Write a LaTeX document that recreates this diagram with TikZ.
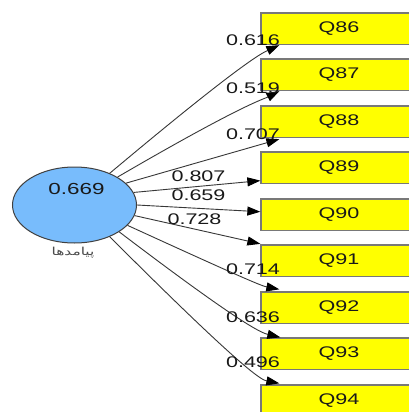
\documentclass[tikz,border=0pt]{standalone}
\usepackage{fontspec}
\usepackage{graphicx}
\setmainfont{Liberation Sans}
\newfontfamily\arabicfont[Script=Arabic]{DejaVu Sans}
\TeXXeTstate=1
\usetikzlibrary{shapes.geometric,arrows.meta,calc}
\definecolor{ellblue}{RGB}{120,188,252}
\definecolor{boxyel}{RGB}{255,255,0}
\definecolor{boxline}{RGB}{120,120,120}
\definecolor{lineclr}{RGB}{55,55,55}
\newcommand{\widetxt}[1]{\scalebox{1.4}[1]{#1}}
\begin{document}
\begin{tikzpicture}[x=1pt,y=-1pt,
  qbox/.style={draw=boxline,line width=1.3pt,fill=boxyel,minimum width=156pt,minimum height=31.5pt,inner sep=0pt,text=black!90,font=\fontsize{15.4}{16}\selectfont},
  lbl/.style={inner sep=0pt,text=black!90,font=\fontsize{15.4}{16}\selectfont},
  arr/.style={draw=lineclr,line width=0.9pt,-{Triangle[length=13pt,width=9pt,black]}}]
\clip (0,0) rectangle (409,412);
\fill[white] (0,0) rectangle (409,412);
% latent variable
\node[ellipse,draw=black!75,line width=1pt,fill=ellblue,minimum width=124pt,minimum height=76pt,inner sep=0pt] (e) at (74.5,205) {};
\node[lbl,font=\fontsize{16}{17}\selectfont] (v) at (76.5,189) {\widetxt{0.669}};
\node[inner sep=0pt,text=black!70] (name) at (73,253) {\arabicfont\fontsize{11}{13}\selectfont\widetxt{\beginR پیامدها\endR}};
% indicators
\node[qbox] (q86) at (339,28.75) {\widetxt{Q86}};
\node[qbox] (q87) at (339,74.75) {\widetxt{Q87}};
\node[qbox] (q88) at (339,121.75) {\widetxt{Q88}};
\node[qbox] (q89) at (339,167.75) {\widetxt{Q89}};
\node[qbox] (q90) at (339,214.75) {\widetxt{Q90}};
\node[qbox] (q91) at (339,260.75) {\widetxt{Q91}};
\node[qbox] (q92) at (339,307.75) {\widetxt{Q92}};
\node[qbox] (q93) at (339,353.75) {\widetxt{Q93}};
\node[qbox] (q94) at (339,400.75) {\widetxt{Q94}};
% connectors
\draw[arr] (e.42) .. controls (240,64) and (262,53) .. ([xshift=19pt]q86.south west);
\draw[arr] (e.33) .. controls (243,104) and (264,99) .. ([xshift=19pt]q87.south west);
\draw[arr] (e.23) -- ([xshift=19pt,yshift=-1pt]q88.south west);
\draw[arr] (e.12) -- ([yshift=3.5pt]q89.south west);
\draw[arr] (e.0) -- ([yshift=3pt]q90.west);
\draw[arr] (e.-10) -- ([yshift=0.5pt]q91.north west);
\draw[arr] (e.-21) .. controls (247,280) and (262,286) .. ([xshift=19pt,yshift=2pt]q92.north west);
\draw[arr] (e.-31) .. controls (243,326) and (262,333) .. ([xshift=20pt]q93.north west);
\draw[arr] (e.-42) .. controls (247,374) and (262,380) .. ([xshift=19pt,yshift=1pt]q94.north west);
% loadings
\node[lbl] (l86) at (253,40.5) {\widetxt{0.616}};
\node[lbl] (l87) at (253,88.5) {\widetxt{0.519}};
\node[lbl] (l88) at (253,134) {\widetxt{0.707}};
\node[lbl] (l89) at (198.5,176.5) {\widetxt{0.807}};
\node[lbl] (l90) at (198.5,195.5) {\widetxt{0.659}};
\node[lbl] (l91) at (194.5,219.5) {\widetxt{0.728}};
\node[lbl] (l92) at (253,269) {\widetxt{0.714}};
\node[lbl] (l93) at (253,317.5) {\widetxt{0.636}};
\node[lbl] (l94) at (253,362.5) {\widetxt{0.496}};
\end{tikzpicture}
\end{document}
